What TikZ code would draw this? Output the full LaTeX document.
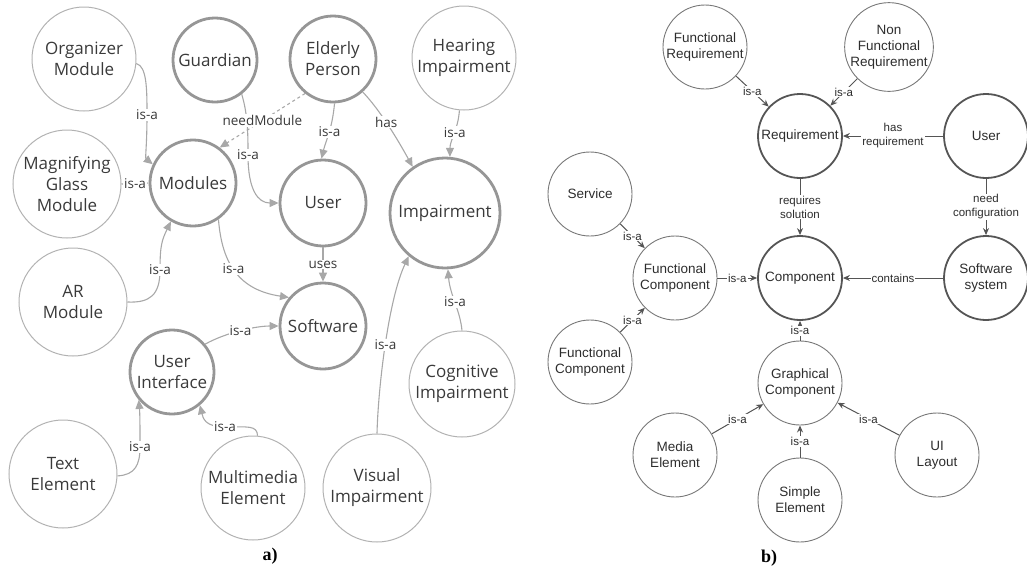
\documentclass[tikz,border=0pt]{standalone}
\usepackage{fontspec}
\setmainfont{Open Sans}
\newfontfamily\drawiofont{Liberation Sans}
\newfontfamily\captionfont{Liberation Serif}
\usetikzlibrary{arrows.meta}
\definecolor{ringgray}{RGB}{178,178,178}
\definecolor{boldgray}{RGB}{150,150,150}
\definecolor{linkgray}{RGB}{168,168,168}
\definecolor{inkgray}{RGB}{58,58,58}
\definecolor{darkring}{RGB}{120,120,120}
\definecolor{darkline}{RGB}{85,85,85}
\definecolor{darkink}{RGB}{45,45,45}

\begin{document}
\begin{tikzpicture}[x=1pt, y=-1pt, every node/.style={align=center},
  concept/.style={circle, draw=ringgray, line width=1pt, text=inkgray, inner sep=0pt, font=\fontsize{17}{21}\selectfont},
  keyconcept/.style={concept, draw=boldgray, line width=2.8pt},
  link/.style={draw=linkgray, line width=1.1pt, -{Triangle[length=9pt,width=8pt]}},
  linklabel/.style={fill=white, text=inkgray, inner sep=1pt, font=\fontsize{13.5}{15}\selectfont},
  entity/.style={circle, draw=darkring, line width=0.9pt, text=darkink, minimum size=84pt, inner sep=0pt, font=\drawiofont\fontsize{13.5}{16}\selectfont},
  keyentity/.style={entity, draw=darkline, line width=1.8pt},
  relation/.style={draw=darkline, line width=1pt, -{Stealth[length=7pt,width=6pt]}},
  relationlabel/.style={fill=white, text=darkink, inner sep=1pt, font=\drawiofont\fontsize{11.5}{14}\selectfont}]
  \useasboundingbox (0,0) rectangle (1027,568);

  % Nodes (a)
  \node[concept, minimum size=104pt] (organizer) at (84,59) {Organizer\\Module};
  \node[keyconcept, minimum size=84pt] (guardian) at (215,60) {Guardian};
  \node[keyconcept, minimum size=86pt] (elderly) at (333,59) {Elderly\\Person};
  \node[concept, minimum size=104pt] (hearing) at (464,58) {Hearing\\Impairment};
  \node[concept, minimum size=108pt] (magnifier) at (67,184) {Magnifying\\Glass\\Module};
  \node[keyconcept, minimum size=86pt] (modules) at (193,183) {Modules};
  \node[keyconcept, minimum size=86pt] (user) at (323,203) {User};
  \node[keyconcept, minimum size=110pt] (impairment) at (445,213) {Impairment};
  \node[concept, minimum size=108pt] (armodule) at (73,302) {AR\\Module};
  \node[keyconcept, minimum size=86pt] (software) at (323,326) {Software};
  \node[keyconcept, minimum size=84pt] (interface) at (172,372) {User\\Interface};
  \node[concept, minimum size=106pt] (cognitive) at (462,384) {Cognitive\\Impairment};
  \node[concept, minimum size=108pt] (textel) at (63,474) {Text\\Element};
  \node[concept, minimum size=104pt] (multimedia) at (253,488) {Multimedia\\Element};
  \node[concept, minimum size=108pt] (visual) at (377,488) {Visual\\Impairment};

  % Arrows (a)
  \draw[link] (organizer.-5) .. controls (147,66) and (147,90) .. (147,115) node[linklabel] {is-a} .. controls (147,145) and (145,158) .. (modules.155);
  \draw[link] (guardian.-52) .. controls (248,115) and (248,135) .. (248,155) node[linklabel] {is-a} .. controls (248,190) and (258,203) .. (user.west);
  \draw[link, dashed] (elderly.231) -- node[linklabel] {needModule} (modules.53);
  \draw[link] (elderly.-88) .. controls (332,130) and (326,140) .. node[linklabel, pos=0.45] {is-a} (user.92);
  \draw[link] (elderly.-48) .. controls (380,110) and (398,140) .. node[linklabel, pos=0.45] {has} (impairment.125);
  \draw[link] (hearing.-95) .. controls (458,130) and (450,140) .. node[linklabel, pos=0.45] {is-a} (impairment.85);
  \draw[link] (magnifier.east) -- node[linklabel] {is-a} (modules.west);
  \draw[link] (armodule.east) .. controls (150,303) and (160,295) .. (160,270) node[linklabel] {is-a} .. controls (160,245) and (162,240) .. (modules.240);
  \draw[link] (modules.-55) .. controls (222,265) and (240,290) .. node[linklabel, pos=0.45] {is-a} (software.140);
  \draw[link] (user.south) -- node[linklabel] {uses} (software.north);
  \draw[link] (interface.40) .. controls (225,333) and (255,326) .. node[linklabel] {is-a} (software.west);
  \draw[link] (visual.north) .. controls (378,390) and (388,300) .. node[linklabel] {is-a} (impairment.230);
  \draw[link] (cognitive.north) .. controls (460,310) and (450,295) .. node[linklabel] {is-a} (impairment.-87);
  \draw[link] (textel.-2) .. controls (135,475) and (140,465) .. (140,447) node[linklabel] {is-a} .. controls (140,428) and (140,415) .. (interface.220);
  \draw[link] (multimedia.85) .. controls (257,425) and (248,427) .. (225,427) node[linklabel] {is-a} .. controls (205,427) and (203,418) .. (interface.-50);

  \node[font=\captionfont\bfseries\fontsize{18}{20}\selectfont] (capa) at (270,556) {a)};

  % Nodes (b)
  \node[entity] (funcreq) at (705,47) {Functional\\Requirement};
  \node[entity] (nonfuncreq) at (889,47) {Non\\Functional\\Requirement};
  \node[keyentity] (requirement) at (800,136) {Requirement};
  \node[keyentity] (rsuser) at (986,136) {User};
  \node[entity] (service) at (590,194) {Service};
  \node[entity] (funccomp) at (675,278) {Functional\\Component};
  \node[keyentity] (component) at (800,278) {Component};
  \node[keyentity] (swsystem) at (986,278) {Software\\system};
  \node[entity] (funccomp2) at (590,362) {Functional\\Component};
  \node[entity] (graphcomp) at (800,383) {Graphical\\Component};
  \node[entity] (mediael) at (675,455) {Media\\Element};
  \node[entity] (simpleel) at (800,500) {Simple\\Element};
  \node[entity] (uilayout) at (937,455) {UI\\Layout};

  % Arrows (b)
  \draw[relation] (funcreq) -- node[relationlabel] {is-a} (requirement);
  \draw[relation] (nonfuncreq) -- node[relationlabel] {is-a} (requirement);
  \draw[relation] (rsuser) -- node[relationlabel] {has\\requirement} (requirement);
  \draw[relation] (requirement) -- node[relationlabel] {requires\\solution} (component);
  \draw[relation] (rsuser) -- node[relationlabel] {need\\configuration} (swsystem);
  \draw[relation] (swsystem) -- node[relationlabel] {contains} (component);
  \draw[relation] (funccomp) -- node[relationlabel] {is-a} (component);
  \draw[relation] (service) -- node[relationlabel] {is-a} (funccomp);
  \draw[relation] (funccomp2) -- node[relationlabel] {is-a} (funccomp);
  \draw[relation] (graphcomp) -- node[relationlabel] {is-a} (component);
  \draw[relation] (mediael) -- node[relationlabel] {is-a} (graphcomp);
  \draw[relation] (simpleel) -- node[relationlabel] {is-a} (graphcomp);
  \draw[relation] (uilayout) -- node[relationlabel] {is-a} (graphcomp);

  \node[font=\captionfont\bfseries\fontsize{18}{20}\selectfont] (capb) at (769,558) {b)};
\end{tikzpicture}
\end{document}
